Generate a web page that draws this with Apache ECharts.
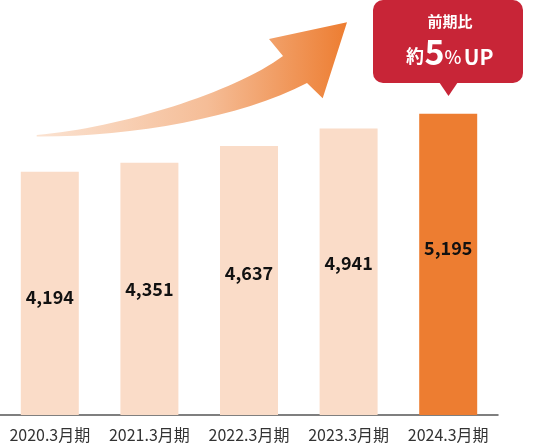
<!DOCTYPE html>
<html>
<head>
<meta charset="utf-8">
<script src="https://cdn.jsdelivr.net/npm/echarts@6/dist/echarts.min.js"></script>
<style>
html,body{margin:0;padding:0;background:#fff;}
#c{width:550px;height:443px;}
</style>
</head>
<body>
<div id="c"></div>
<script>
// ---- data ----
const categories = ['2020.3月期', '2021.3月期', '2022.3月期', '2023.3月期', '2024.3月期'];
const values = [4194, 4351, 4637, 4941, 5195];
const calloutTitle = '前期比';
const calloutParts = ['約', '5', '%', 'UP'];

// ---- styles ----
const barColors = ['#fadcc8', '#fadcc8', '#fadcc8', '#fadcc8', '#ed7d31'];
const labelShift = [4, 0, -7, -9, -16];
const FONT = '"Noto Sans CJK JP", "Noto Sans", sans-serif';

const ARROW_PATH = 'M36.7 135 C120 128 235 92 283 56 L269 39 L347 22.3 L322.7 98.3 L307 83 C240 118 130 137 36.7 136.5 Z';
echarts.graphic.registerShape('trendArrow', echarts.graphic.extendPath(ARROW_PATH, {}));

const chart = echarts.init(document.getElementById('c'), null, {renderer: 'canvas'});

const seriesData = values.map((v, i) => ({
  value: v,
  itemStyle: {color: barColors[i]},
  label: {offset: [0, labelShift[i]]}
}));

const option = {
  animation: false,
  backgroundColor: '#fff',
  grid: {left: 0, right: 52, top: 67, bottom: 27, containLabel: false},
  xAxis: {
    type: 'category',
    data: categories,
    axisLine: {show: true, lineStyle: {color: '#555', width: 1.5}},
    axisTick: {show: false},
    axisLabel: {color: '#333', fontSize: 16, fontFamily: FONT, margin: 12,
      interval: 0, hideOverlap: false}
  },
  yAxis: {
    type: 'value', min: 0, max: 6000, show: false,
    splitLine: {show: false}
  },
  series: [{
    type: 'bar',
    data: seriesData,
    barWidth: 58,
    label: {
      show: true,
      position: 'inside',
      color: '#111',
      fontSize: 18,
      fontWeight: 'bold',
      fontFamily: FONT,
      formatter: p => p.value.toLocaleString('en-US')
    }
  }],
  graphic: [
    {
      type: 'trendArrow',
      silent: true,
      shape: {x: 0, y: 0, width: 550, height: 443},
      style: {
        fill: {
          type: 'linear', x: 0, y: 0, x2: 1, y2: 0,
          colorStops: [
            {offset: 0, color: '#fbe3d2'},
            {offset: 0.55, color: '#f5bd97'},
            {offset: 1, color: '#ed7d31'}
          ]
        }
      }
    },
    {
      type: 'rect',
      silent: true,
      shape: {x: 373, y: 0, width: 150, height: 83, r: 10},
      style: {fill: '#c82537'}
    },
    {
      type: 'polygon',
      silent: true,
      shape: {points: [[439, 82], [458, 82], [448.5, 96]]},
      style: {fill: '#c82537'}
    },
    {
      type: 'text', silent: true,
      style: {text: calloutTitle, x: 450, y: 21.7, align: 'center', verticalAlign: 'middle',
        fill: '#fff', font: 'bold 15px ' + FONT}
    },
    {
      type: 'text', silent: true,
      style: {text: calloutParts[0], x: 415, y: 56.5, align: 'center', verticalAlign: 'middle',
        fill: '#fff', font: 'bold 18px ' + FONT}
    },
    {
      type: 'text', silent: true,
      style: {text: calloutParts[1], x: 434.5, y: 52, align: 'center', verticalAlign: 'middle',
        fill: '#fff', font: 'bold 34px ' + FONT}
    },
    {
      type: 'text', silent: true,
      style: {text: calloutParts[2], x: 453, y: 57.5, align: 'center', verticalAlign: 'middle',
        fill: '#fff', font: '500 18px ' + FONT}
    },
    {
      type: 'text', silent: true,
      style: {text: calloutParts[3], x: 478.7, y: 57.5, align: 'center', verticalAlign: 'middle',
        fill: '#fff', font: 'bold 21px ' + FONT}
    }
  ]
};
chart.setOption(option);
</script>
</body>
</html>
